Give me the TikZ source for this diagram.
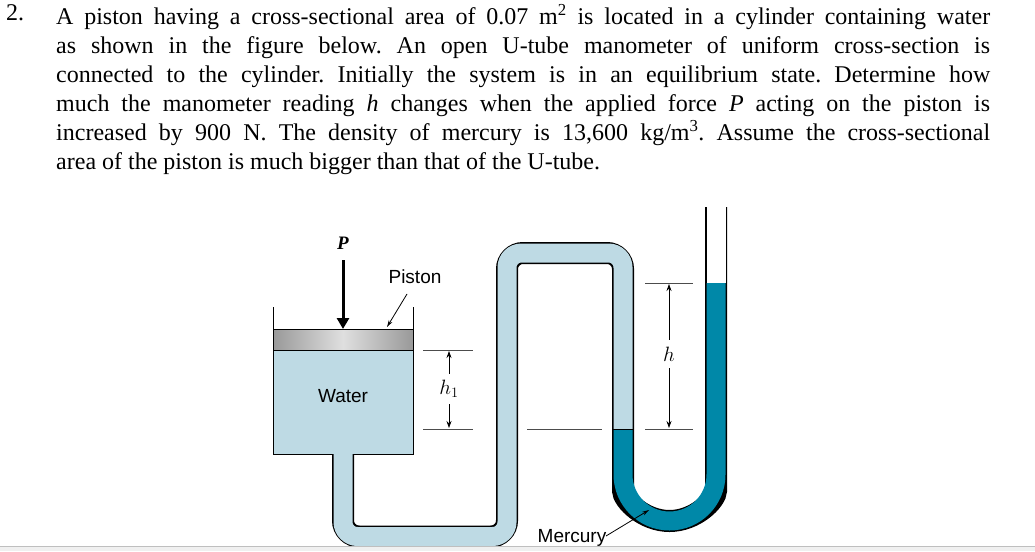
\documentclass[tikz,border=0pt]{standalone}
\usepackage{fontspec}
\setmainfont{Liberation Serif}
\setsansfont{Liberation Sans}
\usetikzlibrary{arrows.meta}
\definecolor{water}{HTML}{BEDAE4}
\definecolor{merc}{HTML}{0088A8}
\begin{document}
\begin{tikzpicture}[x=1pt,y=-1pt,
  txt/.style={font=\fontsize{24}{29}\selectfont\frenchspacing,inner sep=0pt},
  lab/.style={font=\sffamily\fontsize{19}{22}\selectfont,inner sep=0pt},
  dim/.style={line width=0.7pt,{Stealth[length=7pt,width=5pt]}-{Stealth[length=7pt,width=5pt]}},
  thin/.style={line width=0.7pt,black!70}]
\useasboundingbox (0,0) rectangle (1035,551);
% text
\node[txt,anchor=north west] (num) at (6,4) {2.};
\node[txt,anchor=north west,text width=934pt,align=justify] (para) at (56,4) {A piston having a cross-sectional area of 0.07 m\textsuperscript{2} is located in a cylinder containing water\linebreak as shown in the figure below. An open U-tube manometer of uniform cross-section is\linebreak connected to the cylinder. Initially the system is in an equilibrium state. Determine how\linebreak much the manometer reading \textit{h} changes when the applied force \textit{P} acting on the piston is\linebreak increased by 900 N. The density of mercury is 13,600 kg/m\textsuperscript{3}. Assume the cross-sectional\linebreak area of the piston is much bigger than that of the U-tube.};
% pipe
\coordinate (c0) at (343,454);
\coordinate (iface) at (623,429);
\coordinate (mtop) at (716,283);
\coordinate (open) at (716,207);
\draw[line width=22pt,rounded corners=16pt] (c0) -- (343,536.5) -- (507,536.5) -- (507,253) -- (623,253) -- (623,474.5) arc[start angle=180,end angle=0,radius=46.5] -- (open);
\draw[water,line width=19pt,rounded corners=14.5pt] (343,452) -- (343,536.5) -- (507,536.5) -- (507,253) -- (623,253) -- (iface);
\draw[merc,line width=19pt] (iface) -- (623,474.5) arc[start angle=180,end angle=0,radius=46.5] -- (mtop);
\draw[white,line width=19pt] (mtop) -- (716,206);
\draw[line width=1pt] (612.5,429) -- (633.5,429);
% cylinder
\fill[water] (273,350) rectangle (413,454);
\shade[left color=gray!80,right color=gray!80,middle color=gray!25,draw=black,line width=1pt] (273,329) rectangle (413,350);
\draw[line width=1pt] (273,307) -- (273,454) -- (332,454);
\draw[line width=1pt] (413,307) -- (413,454) -- (354,454);
\node[lab] (water) at (343,396) {Water};
% force
\node[font=\fontsize{19}{22}\selectfont\itshape\bfseries] (P) at (343,243) {P};
\draw[line width=3pt,-{Triangle[length=11pt,width=12pt]}] (343,260) -- (343,329);
\node[lab] (pist) at (415,277) {Piston};
\draw[line width=0.8pt,-{Stealth[length=7pt,width=4pt]}] (407,294) -- (387,327);
% dimension lines
\draw[thin] (423,350) -- (473,350);
\draw[thin] (423,429) -- (473,429);
\draw[thin] (527,429) -- (602,429);
\draw[thin] (645,283) -- (693,283);
\draw[thin] (645,429) -- (693,429);
\draw[dim] (449,351) -- (449,428);
\fill[white] (440,374) rectangle (458,404);
\node[font=\fontsize{20}{22}\selectfont] (h1) at (449,389) {$h_1$};
\draw[dim] (669,284) -- (669,428);
\fill[white] (660,340) rectangle (678,368);
\node[font=\fontsize{20}{22}\selectfont] (h) at (669,354) {$h$};
% mercury label
\node[lab] (merl) at (572,538) {Mercury};
\draw[line width=0.8pt,-{Stealth[length=7pt,width=4pt]}] (606,536) -- (649,510);
% bottom band
\fill[gray!12] (0,546) rectangle (1035,551);
\draw[gray!50,line width=0.6pt] (0,546) -- (1035,546);
\end{tikzpicture}
\end{document}
